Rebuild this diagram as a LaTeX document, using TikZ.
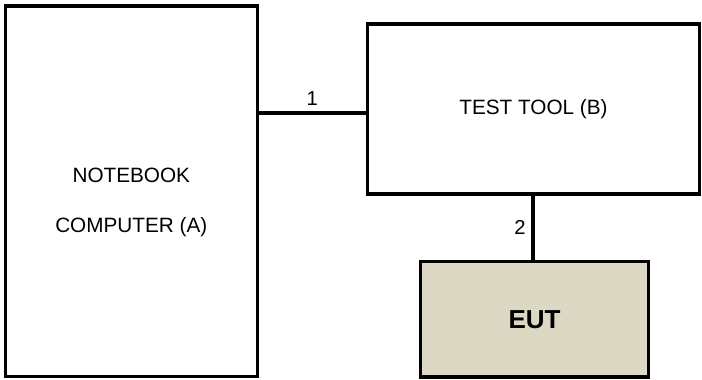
\documentclass[tikz,border=0pt]{standalone}
\usepackage{fontspec}
\setmainfont{Liberation Sans}
\usepackage{tikz}
\usepackage{xcolor}
\definecolor{eutfill}{RGB}{221,216,195}

\begin{document}
\begin{tikzpicture}[box/.style={draw=black, line width=1.8pt, inner sep=0pt},
                    wire/.style={draw=black, line width=1.8pt},
                    boxtext/.style={align=center, font=\fontsize{11.8}{28.45}\selectfont},
                    wirelabel/.style={font=\fontsize{11.5}{14}\selectfont}]
                \useasboundingbox (0,0) rectangle (14.04,7.58);
                \node[box, minimum width=5.04cm, minimum height=7.41cm](nb) at (2.626,3.756){};
                \node[boxtext](nbtext) at ([yshift=-0.23cm]nb.center){NOTEBOOK\\COMPUTER (A)};
                \node[box, boxtext, minimum width=6.65cm, minimum height=3.40cm](tt) at (10.67,5.40){TEST TOOL (B)};
                \node[box, fill=eutfill, minimum width=4.57cm, minimum height=2.31cm, font=\fontsize{14.8}{18}\selectfont\bfseries](eut) at (10.69,1.196){EUT};
                \coordinate (c1) at (0,5.32);
                \draw[wire] (nb.east |- c1) -- (tt.west |- c1) node[midway, above, wirelabel]{1};
                \draw[wire] (tt.south -| 10.66,0) -- (eut.north -| 10.66,0) node[midway, left, wirelabel]{2};
            \end{tikzpicture}
\end{document}
